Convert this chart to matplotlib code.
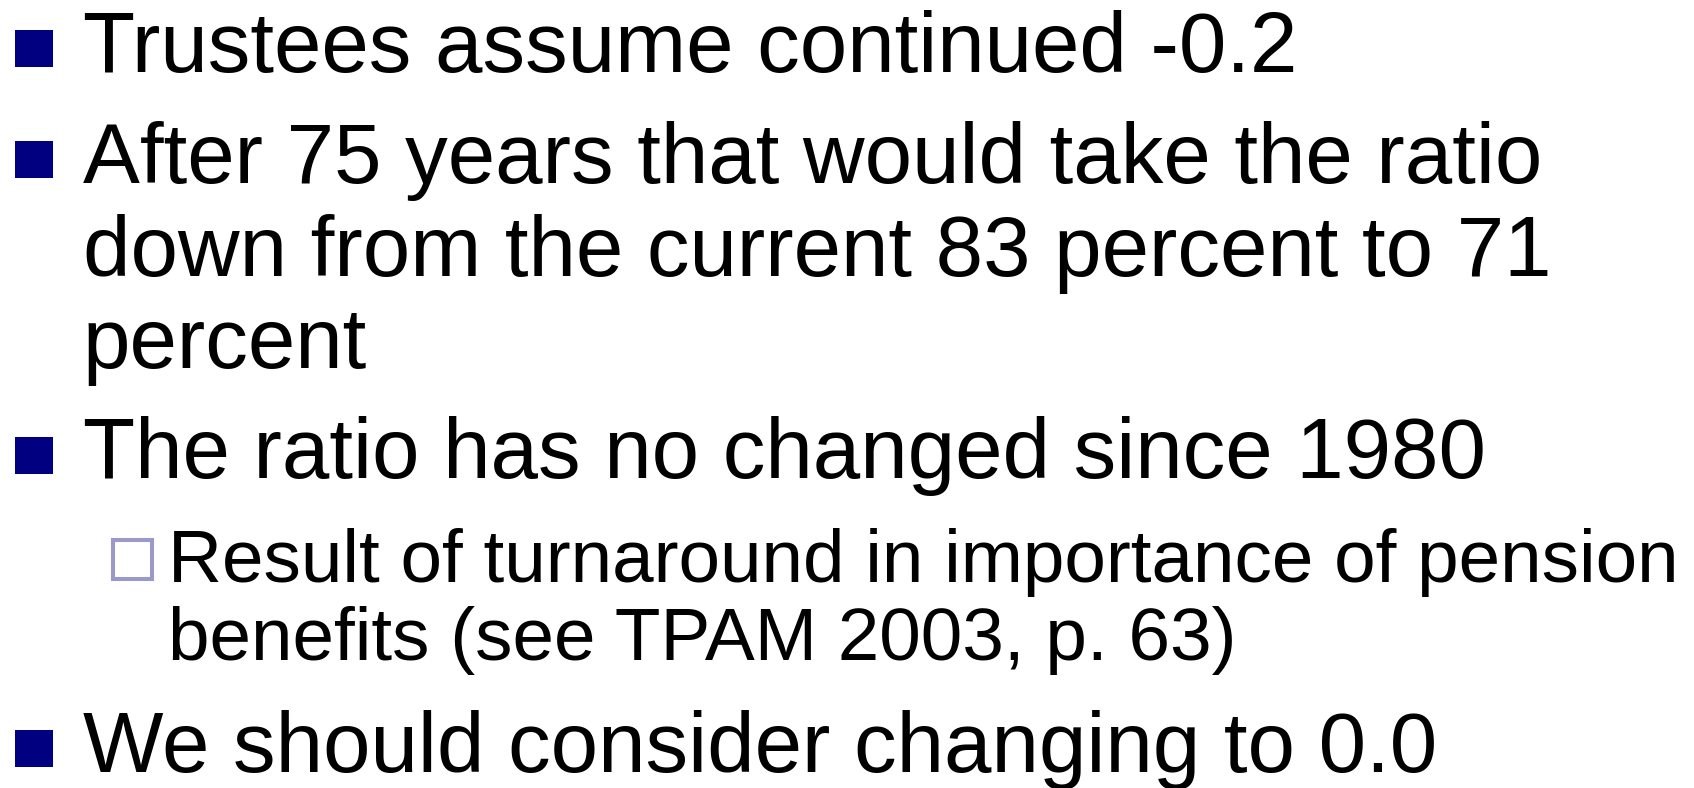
import matplotlib
matplotlib.use("Agg")
import matplotlib.pyplot as plt
from matplotlib.patches import Rectangle

# Slide content
main_lines = [
    ["Trustees assume continued -0.2"],
    ["After 75 years that would take the ratio",
     "down from the current 83 percent to 71",
     "percent"],
    ["The ratio has no changed since 1980"],
]
sub_lines = ["Result of turnaround in importance of pension",
             "benefits (see TPAM 2003, p. 63)"]
last_line = ["We should consider changing to 0.0"]

W, H = 1694, 788
fig = plt.figure(figsize=(W / 100, H / 100), dpi=100)
ax = fig.add_axes([0, 0, 1, 1])
ax.set_xlim(0, W)
ax.set_ylim(H, 0)
ax.axis("off")

FONT = "Liberation Sans"
main_px = 85.3
sub_px = 74.8
main_size = main_px * 72 / 100
sub_size = sub_px * 72 / 100
navy = "#000080"
sub_col = "#9999CC"

def main_bullet(y_top):
    ax.add_patch(Rectangle((15, y_top), 38, 37, facecolor=navy, edgecolor="none"))

def draw_para(lines, y0, step, x, size):
    for i, t in enumerate(lines):
        ax.text(x, y0 + i * step, t, fontsize=size, family=FONT,
                va="baseline", ha="left", color="black")

# paragraph 1
main_bullet(30)
draw_para(main_lines[0], 72, 92, 83, main_size)
# paragraph 2
main_bullet(141)
draw_para(main_lines[1], 183, 92.5, 83, main_size)
# paragraph 3
main_bullet(437)
draw_para(main_lines[2], 478, 92, 83, main_size)
# sub bullet
ax.add_patch(Rectangle((113, 540), 39, 39, facecolor="white",
                       edgecolor=sub_col, linewidth=2.9))
draw_para(sub_lines, 582, 78, 168, sub_size)
# paragraph 4
main_bullet(730)
draw_para(last_line, 772, 92, 83, main_size)

fig.savefig("out.png", dpi=100, facecolor="white")
